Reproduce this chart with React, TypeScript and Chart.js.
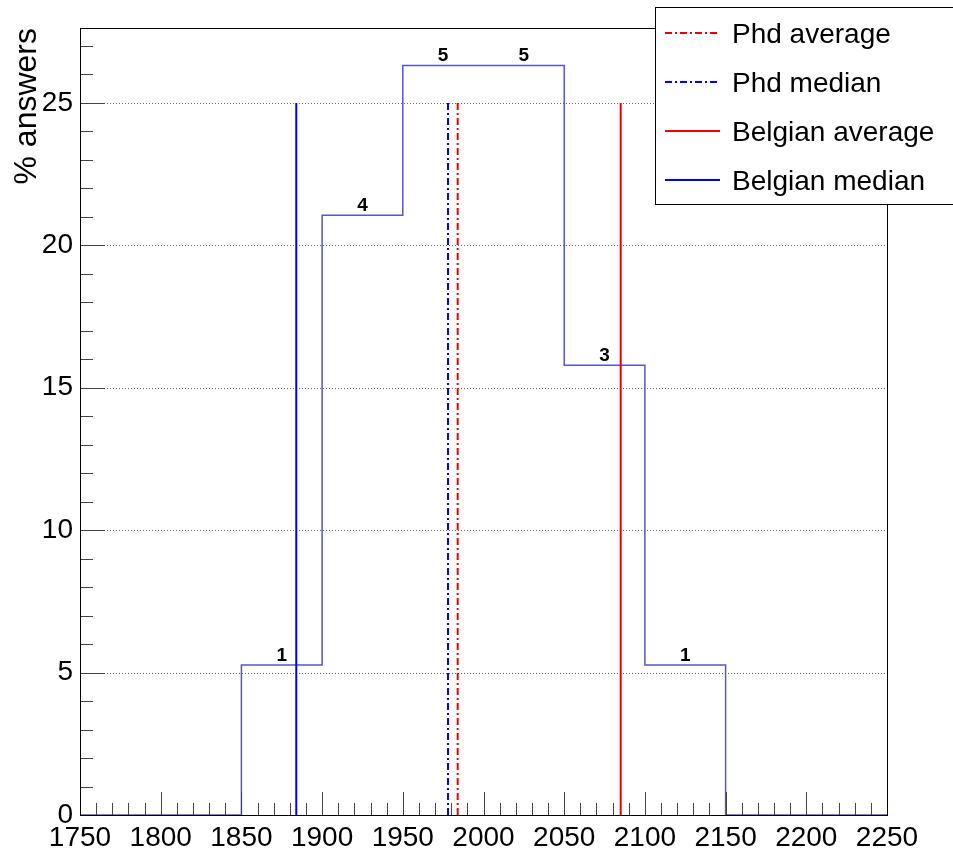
import React, { useEffect, useRef } from 'react';
import { Chart, registerables } from 'chart.js';

Chart.register(...registerables);

// ---- data ----
const binEdges = [1750, 1800, 1850, 1900, 1950, 2000, 2050, 2100, 2150, 2200, 2250];
const binCounts = [0, 0, 1, 4, 5, 5, 3, 1, 0, 0];
const totalAnswers = 19;
const phdAverage = 1984;
const phdMedian = 1978;
const belgianAverage = 2085;
const belgianMedian = 1884;
const markerLineTop = 25;
const yAxisMax = 27.63;
const xMajorStep = 50;
const xMinorStep = 10;
const yMajorStep = 5;
const yMinorStep = 1;
const yGridValues = [5, 10, 15, 20, 25];
const legendLabels = ['Phd average', 'Phd median', 'Belgian average', 'Belgian median'];
const yTitle = '% answers';

const binPercent = binCounts.map((c) => (c / totalAnswers) * 100);

const FONT = '"Liberation Sans", Arial, Helvetica, sans-serif';
const RED = '#ee0000';
const BLUE = '#0000ee';
const HIST = '#5555cc';
const DASHDOT = [7, 3, 2, 3];

const legendStyles = [
  { color: RED, dash: DASHDOT },
  { color: BLUE, dash: DASHDOT },
  { color: RED, dash: [] as number[] },
  { color: BLUE, dash: [] as number[] },
];

const rootPlugin = {
  id: 'rootStyle',
  beforeDatasetsDraw(chart: any) {
    const { ctx, chartArea: a, scales } = chart;
    const y = scales.y;
    ctx.save();
    ctx.strokeStyle = '#666';
    ctx.lineWidth = 1;
    ctx.setLineDash([1, 2]);
    for (const v of yGridValues) {
      const py = Math.round(y.getPixelForValue(v)) + 0.5;
      ctx.beginPath();
      ctx.moveTo(a.left, py);
      ctx.lineTo(a.right, py);
      ctx.stroke();
    }
    ctx.restore();
  },
  afterDatasetsDraw(chart: any) {
    const { ctx, chartArea: a, scales } = chart;
    const x = scales.x;
    const y = scales.y;
    ctx.save();
    // ticks
    ctx.strokeStyle = '#444';
    ctx.lineWidth = 1;
    ctx.setLineDash([]);
    const xmin = x.min, xmax = x.max;
    for (let v = xmin; v <= xmax + 1e-6; v += xMinorStep) {
      const major = Math.abs(((v - xmin) / xMajorStep) - Math.round((v - xmin) / xMajorStep)) < 1e-6;
      const px = Math.round(x.getPixelForValue(v)) + 0.5;
      ctx.beginPath();
      ctx.moveTo(px, a.bottom);
      ctx.lineTo(px, a.bottom - (major ? 23 : 12));
      ctx.stroke();
    }
    for (let v = 0; v <= y.max + 1e-6; v += yMinorStep) {
      const major = Math.abs(v / yMajorStep - Math.round(v / yMajorStep)) < 1e-6;
      const py = Math.round(y.getPixelForValue(v)) + 0.5;
      ctx.beginPath();
      ctx.moveTo(a.left, py);
      ctx.lineTo(a.left + (major ? 25 : 13), py);
      ctx.stroke();
    }
    // frame
    ctx.strokeStyle = '#000';
    ctx.strokeRect(Math.round(a.left) + 0.5, Math.round(a.top) + 0.5, Math.round(a.right - a.left), Math.round(a.bottom - a.top));

    // bin content labels
    ctx.fillStyle = '#000';
    ctx.font = `bold 19px ${FONT}`;
    ctx.textAlign = 'center';
    ctx.textBaseline = 'alphabetic';
    binCounts.forEach((c, i) => {
      if (c <= 0) return;
      const cx = x.getPixelForValue((binEdges[i] + binEdges[i + 1]) / 2);
      const cy = y.getPixelForValue(binPercent[i]) - 4;
      ctx.fillText(String(c), cx, cy);
    });

    // y title
    ctx.save();
    ctx.translate(36, a.top);
    ctx.rotate(-Math.PI / 2);
    ctx.font = `32px ${FONT}`;
    ctx.textAlign = 'right';
    ctx.textBaseline = 'alphabetic';
    ctx.fillText(yTitle, 0, 0);
    ctx.restore();

    // legend
    const lx = 655.5, ly = 7.5, lw = 310, lh = 197;
    ctx.fillStyle = '#fff';
    ctx.fillRect(lx, ly, lw, lh);
    ctx.strokeStyle = '#000';
    ctx.lineWidth = 1;
    ctx.strokeRect(lx, ly, lw, lh);
    ctx.font = `28px ${FONT}`;
    ctx.textAlign = 'left';
    ctx.textBaseline = 'middle';
    legendLabels.forEach((label, i) => {
      const ry = 33 + 49 * i;
      const st = legendStyles[i];
      ctx.strokeStyle = st.color;
      ctx.lineWidth = 2;
      ctx.setLineDash(st.dash);
      ctx.beginPath();
      ctx.moveTo(665, ry);
      ctx.lineTo(720, ry);
      ctx.stroke();
      ctx.setLineDash([]);
      ctx.fillStyle = '#000';
      ctx.fillText(label, 732, ry + 2);
    });
    ctx.restore();
  },
};

function vline(label: string, xv: number, color: string, dash: number[]) {
  return {
    label,
    data: [
      { x: xv, y: 0 },
      { x: xv, y: markerLineTop },
    ],
    borderColor: color,
    borderWidth: 2,
    borderDash: dash,
    pointRadius: 0,
    fill: false,
    order: 0,
  };
}

export default function App() {
  const ref = useRef<HTMLCanvasElement | null>(null);
  useEffect(() => {
    document.body.style.margin = '0';
    const canvas = ref.current!;
    const histData = binEdges.map((e, i) => ({ x: e, y: i < binPercent.length ? binPercent[i] : 0 }));
    const chart = new Chart(canvas, {
      type: 'line',
      data: {
        datasets: [
          {
            label: 'hist',
            data: histData,
            borderColor: HIST,
            borderWidth: 1.5,
            stepped: 'before',
            pointRadius: 0,
            fill: false,
            order: 1,
          } as any,
          vline(legendLabels[0], phdAverage, RED, DASHDOT),
          vline(legendLabels[1], phdMedian, BLUE, DASHDOT),
          vline(legendLabels[2], belgianAverage, RED, []),
          vline(legendLabels[3], belgianMedian, BLUE, []),
        ],
      },
      options: {
        responsive: false,
        animation: false,
        layout: { padding: { top: 28, right: 66, left: 0, bottom: 0 } },
        plugins: { legend: { display: false }, tooltip: { enabled: false } },
        scales: {
          x: {
            type: 'linear',
            min: binEdges[0],
            max: binEdges[binEdges.length - 1],
            grid: { display: false, drawTicks: false, tickLength: 0 },
            border: { display: false },
            ticks: {
              stepSize: xMajorStep,
              autoSkip: false,
              maxRotation: 0,
              minRotation: 0,
              padding: 6,
              color: '#000',
              font: { family: FONT, size: 28 },
              callback: (v: any) => String(v),
            },
            afterFit: (s: any) => {
              s.height = 37;
            },
          },
          y: {
            type: 'linear',
            min: 0,
            max: yAxisMax,
            grid: { display: false, drawTicks: false, tickLength: 0 },
            border: { display: false },
            ticks: {
              stepSize: yMajorStep,
              padding: 7,
              color: '#000',
              font: { family: FONT, size: 28 },
              callback: (v: any) => String(v),
            },
            afterBuildTicks: (s: any) => {
              s.ticks = s.ticks.filter((t: any) => Math.abs(t.value / yMajorStep - Math.round(t.value / yMajorStep)) < 1e-6);
            },
            afterFit: (s: any) => {
              s.width = 80;
            },
          },
        },
      } as any,
      plugins: [rootPlugin],
    });
    return () => chart.destroy();
  }, []);
  return (
    <div style={{ width: 953, height: 852, overflow: 'hidden', background: '#fff' }}>
      <canvas ref={ref} width={953} height={852} style={{ display: 'block' }} />
    </div>
  );
}
